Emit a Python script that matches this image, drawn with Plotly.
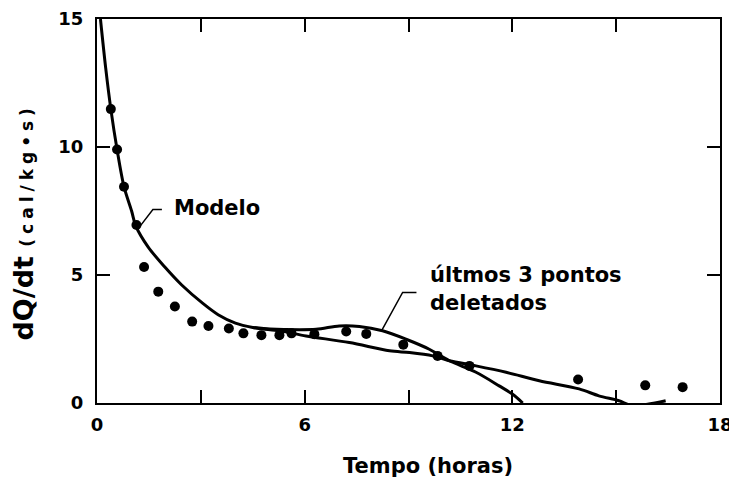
import plotly.graph_objects as go

# ---- data ----
time_h = [0.40, 0.58, 0.78, 1.14, 1.36, 1.77, 2.25, 2.75, 3.22, 3.81, 4.23,
          4.75, 5.27, 5.62, 6.28, 7.20, 7.78, 8.85, 9.84, 10.76, 13.90,
          15.84, 16.92]
dqdt = [11.48, 9.90, 8.45, 6.95, 5.31, 4.35, 3.77, 3.18, 3.01, 2.91, 2.72,
        2.65, 2.65, 2.72, 2.69, 2.79, 2.70, 2.28, 1.84, 1.45, 0.92,
        0.69, 0.62]

modelo_x = [0.10, 0.25, 0.40, 0.58, 0.78, 1.00, 1.12, 1.48, 1.96, 2.44, 3.05,
            3.50, 4.00, 4.50, 5.00, 5.40, 6.04, 7.29, 8.45, 9.03, 9.70, 10.18,
            10.95, 11.82, 12.78, 13.93, 14.50, 15.08, 15.46, 16.43]
modelo_y = [15.0, 13.1, 11.48, 9.90, 8.45, 7.50, 6.92, 6.09, 5.31, 4.62, 3.90,
            3.45, 3.12, 2.95, 2.86, 2.79, 2.62, 2.36, 2.04, 1.97, 1.84, 1.65,
            1.45, 1.20, 0.87, 0.55, 0.28, 0.09, -0.10, 0.09]

deletados_x = [4.50, 5.00, 5.40, 6.33, 7.00, 7.58, 8.25, 8.93, 9.60, 10.18,
               10.95, 11.62, 12.00, 12.30]
deletados_y = [2.95, 2.89, 2.87, 2.88, 3.01, 2.99, 2.82, 2.49, 2.10, 1.65,
               1.20, 0.67, 0.35, 0.00]

x_tickvals = [0, 3, 6, 9, 12, 15, 18]
x_ticktext = ["0", "", "6", "", "12", "", "18"]
y_tickvals = [0, 5, 10, 15]
y_ticktext = ["0", "5", "10", "15"]

FONT = "DejaVu Sans"
INK = "#000000"

fig = go.Figure()
fig.add_trace(go.Scatter(x=modelo_x, y=modelo_y, mode="lines",
                         line=dict(color=INK, width=3, shape="spline", smoothing=0.9),
                         name="Modelo", hoverinfo="skip"))
fig.add_trace(go.Scatter(x=deletados_x, y=deletados_y, mode="lines",
                         line=dict(color=INK, width=3, shape="spline", smoothing=0.9),
                         name="últmos 3 pontos deletados", hoverinfo="skip"))
fig.add_trace(go.Scatter(x=time_h, y=dqdt, mode="markers",
                         marker=dict(color=INK, size=10), name="dados"))

axis_common = dict(showline=True, linecolor=INK, linewidth=2, mirror="allticks",
                   ticks="inside", ticklen=13, tickwidth=2, tickcolor=INK,
                   showgrid=False, zeroline=False, automargin=False,
                   tickfont=dict(family=FONT, size=18, color=INK, weight="bold"))

# the page body offsets the figure by ~8px, margins compensate for it
fig.update_layout(
    width=737, height=481,
    margin=dict(l=89, r=25, t=11, b=86),
    paper_bgcolor="white", plot_bgcolor="white",
    showlegend=False,
    xaxis=dict(range=[0, 18], tickvals=x_tickvals, ticktext=x_ticktext,
               ticklabelstandoff=4, **axis_common),
    yaxis=dict(range=[0, 15], tickvals=y_tickvals, ticktext=y_ticktext,
               ticklabelstandoff=8, **axis_common),
)

# leader lines
fig.add_shape(type="path", xref="x", yref="y",
              path="M 1.875 7.56 L 1.615 7.56 L 1.24 6.90",
              line=dict(color=INK, width=1.5))
fig.add_shape(type="path", xref="x", yref="y",
              path="M 9.23 4.32 L 8.83 4.32 L 8.22 2.82",
              line=dict(color=INK, width=1.5))

# labels
fig.add_annotation(x=2.16, y=7.6, xref="x", yref="y", text="<b>Modelo</b>",
                   showarrow=False, xanchor="left", yanchor="middle",
                   font=dict(family=FONT, size=21, color=INK))
fig.add_annotation(x=9.55, y=4.99, xref="x", yref="y", text="<b>últmos 3 pontos</b>",
                   showarrow=False, xanchor="left", yanchor="middle",
                   font=dict(family=FONT, size=21, color=INK))
fig.add_annotation(x=9.55, y=3.90, xref="x", yref="y", text="<b>deletados</b>",
                   showarrow=False, xanchor="left", yanchor="middle",
                   font=dict(family=FONT, size=21, color=INK))

# axis titles
fig.add_annotation(x=(428 - 97) / 623, y=(403 - 466) / 385, xref="paper", yref="paper",
                   text="<b>Tempo (horas)</b>", showarrow=False,
                   xanchor="center", yanchor="middle",
                   font=dict(family=FONT, size=21, color=INK))
fig.add_annotation(x=(23 - 97) / 623, y=(403 - 222) / 385, xref="paper", yref="paper",
                   text='<b>dQ/dt </b><span style="font-size:17px;letter-spacing:5px"><b>(cal/kg•s)</b></span>',
                   showarrow=False, textangle=-90,
                   xanchor="center", yanchor="middle",
                   font=dict(family=FONT, size=27, color=INK))

fig.write_html("out.html")
